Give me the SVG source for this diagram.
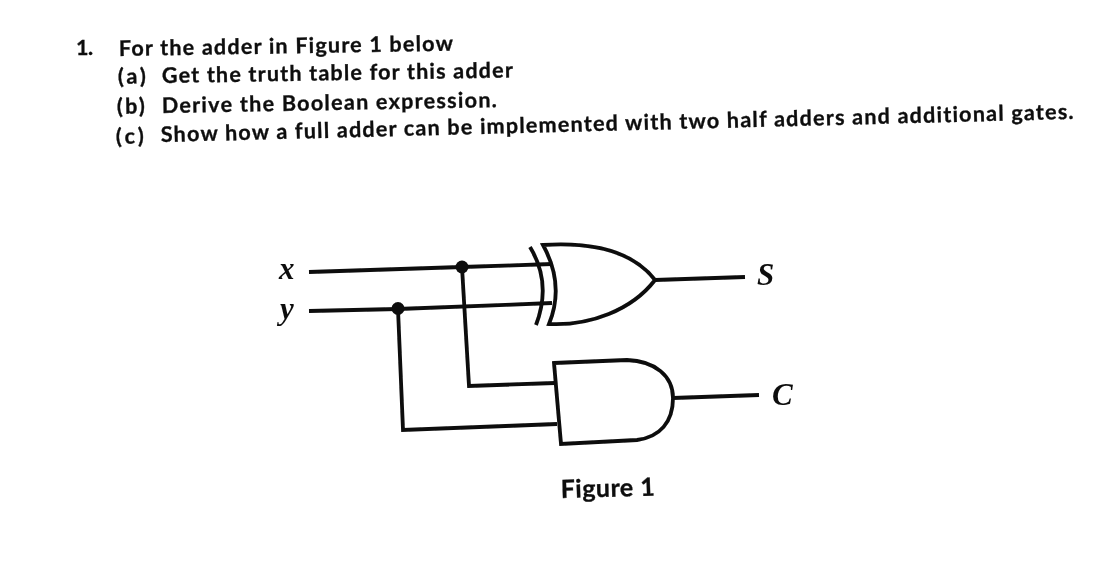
<svg xmlns="http://www.w3.org/2000/svg" width="1113" height="584" viewBox="0 0 1113 584">
<defs>
<filter id="soft" x="-5%" y="-30%" width="110%" height="160%"><feGaussianBlur stdDeviation="0.6"/></filter>
<filter id="softw" filterUnits="userSpaceOnUse" x="0" y="0" width="1113" height="584"><feGaussianBlur stdDeviation="0.5"/></filter>
</defs>
<style>
.t{font-family:"Lato","Liberation Sans",sans-serif;font-weight:700;font-size:21.5px;fill:#111;stroke:#111;stroke-width:0.35px;font-variant-ligatures:none}
.m{font-family:"Liberation Serif",serif;font-style:italic;font-weight:700;font-size:31px;fill:#111}
.w{fill:none;stroke:#0a0a0a;stroke-width:3.8;stroke-linejoin:miter;stroke-linecap:butt}
.d{fill:#0a0a0a}
</style>
<rect width="1113" height="584" fill="#fff"/>
<g id="question" filter="url(#soft)">
<text class="t" x="76" y="55" textLength="17">1.</text>
<text class="t" x="119" y="56" transform="rotate(-0.9 119 56)" textLength="334">For the adder in Figure 1 below</text>
<text class="t" x="118" y="84" transform="rotate(-0.9 118 84)" textLength="28">(a)</text>
<text class="t" x="162" y="83" transform="rotate(-0.9 162 83)" textLength="351">Get the truth table for this adder</text>
<text class="t" x="117" y="114" transform="rotate(-1 117 114)" textLength="28">(b)</text>
<text class="t" x="162" y="113" transform="rotate(-1 162 113)" textLength="335">Derive the Boolean expression.</text>
<text class="t" x="116" y="144" transform="rotate(-1.2 116 144)" textLength="28">(c)</text>
<text class="t" x="161" y="142" transform="rotate(-1.45 161 142)" textLength="913">Show how a full adder can be implemented with two half adders and additional gates.</text>
</g>
<g id="connectors" filter="url(#softw)">
<path class="w" d="M309 272 L462 267 L552 264"/>
<path class="w" d="M309 311 L398 309 L552 303"/>
<path class="w" d="M462 267 L469 386 L555 383"/>
<path class="w" d="M398 309 L403 430 L557 424"/>
<path class="w" d="M655 280 L745 277"/>
<path class="w" d="M673 398 L759 395"/>
<circle class="d" cx="462" cy="267" r="6.5"/>
<circle class="d" cx="398" cy="308.500" r="6.500"/>
</g>
<g id="xor-gate" filter="url(#softw)">
<path class="w" d="M530 247 Q552 283 536 325" stroke-linecap="round"/>
<path class="w" d="M543 245 C590 242 632 250 655 280 C632 310 590 326 549 324 Q565 285 543 245 Z"/>
</g>
<g id="and-gate" filter="url(#softw)">
<path class="w" d="M554 363 L627 360 C655 361 673 376 673 398 C673 422 660 437 637 440 L561 444 Z"/>
</g>
<g id="label-x" filter="url(#soft)"><text class="m" x="279" y="279">x</text></g>
<g id="label-y" filter="url(#soft)"><text class="m" x="280" y="319">y</text></g>
<g id="label-s" filter="url(#soft)"><text class="m" x="757" y="285">S</text></g>
<g id="label-c" filter="url(#soft)"><text class="m" x="772" y="405">C</text></g>
<g id="caption" filter="url(#soft)">
<text class="t" style="font-size:25px" x="561" y="498" transform="rotate(-1.5 561 498)" textLength="94">Figure 1</text>
</g>
</svg>
